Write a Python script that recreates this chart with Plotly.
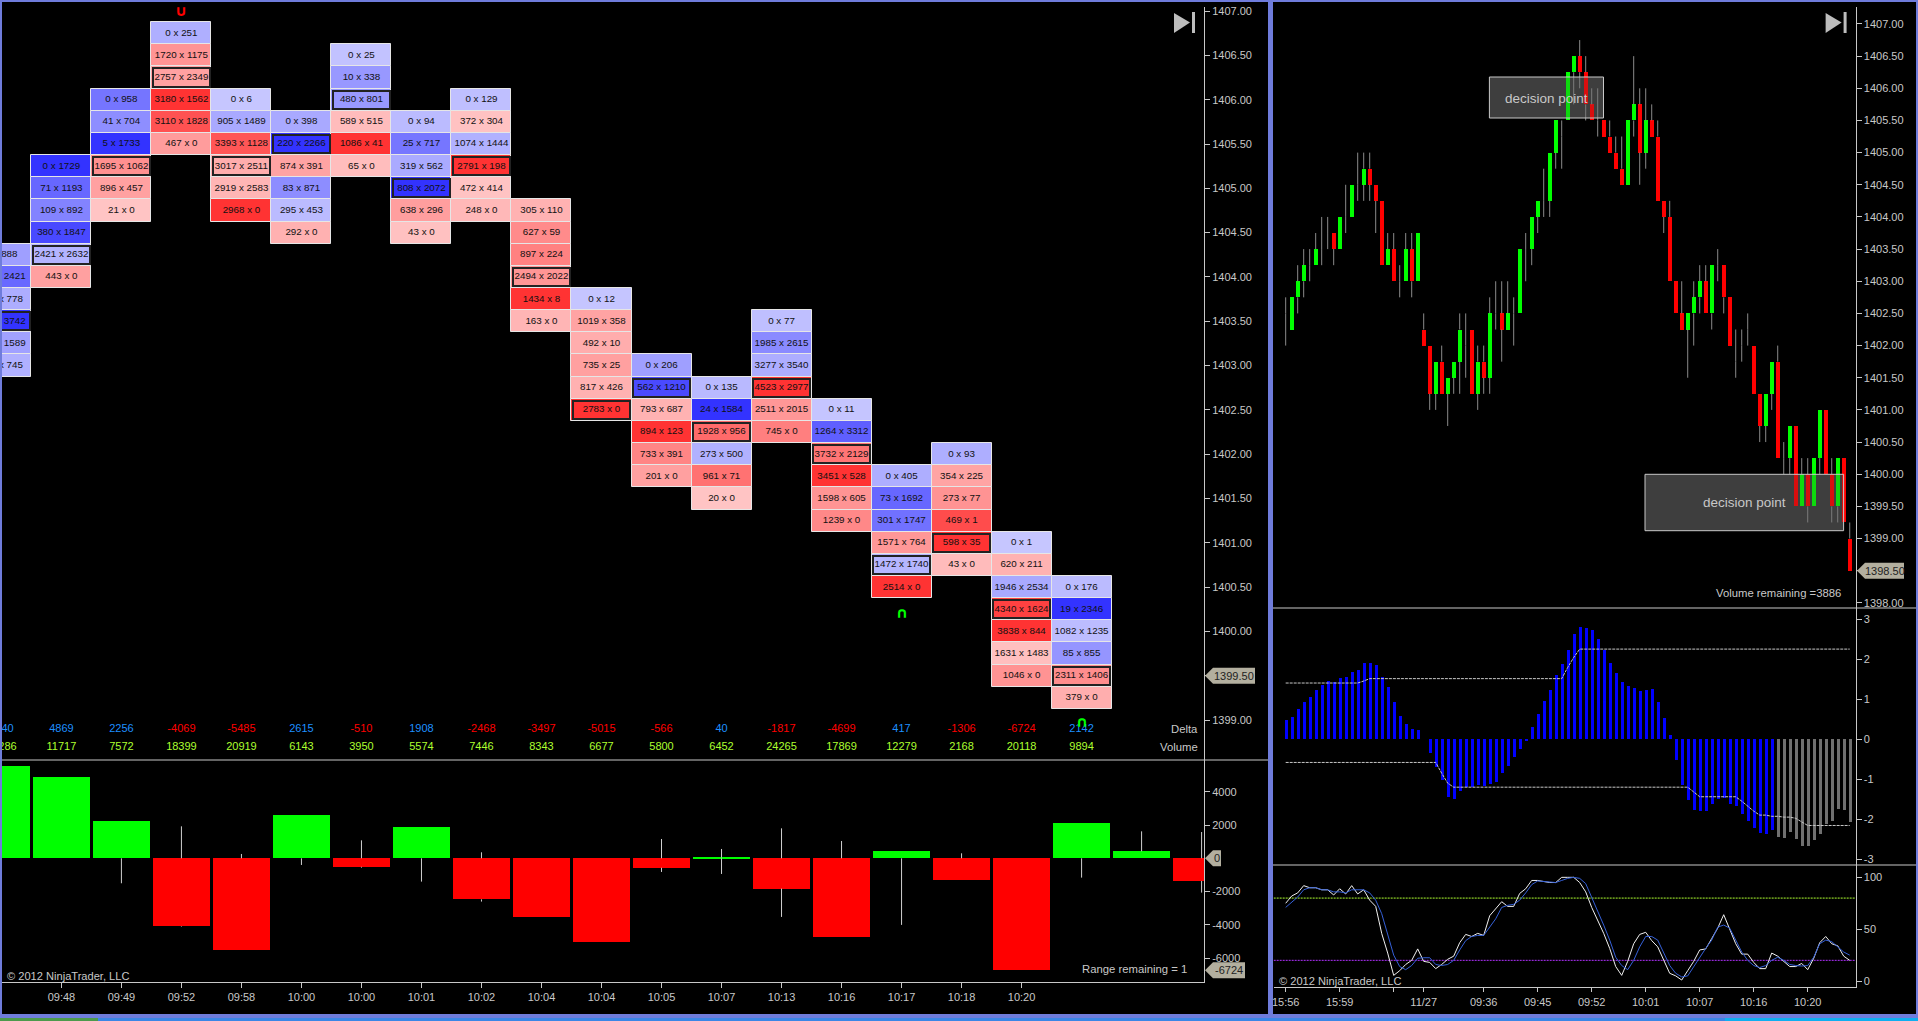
import plotly.graph_objects as go

W = 1918
H = 1021

# footprint columns: top price of each column, then bid and ask from the top row down
column_top = [1404.25, 1405.25, 1406.0, 1406.75, 1406.0, 1405.75, 1406.5, 1405.75, 1406.0, 1404.75, 1403.75,
              1403.0, 1402.75, 1403.5, 1402.5, 1401.75, 1402.0, 1401.0, 1400.5]
column_bid = [
    [0, 285, 200, 380, 750, 250],
    [0, 71, 109, 380, 2421, 443],
    [0, 41, 5, 1695, 896, 21],
    [0, 1720, 2757, 3180, 3110, 467],
    [0, 905, 3393, 3017, 2919, 2968],
    [0, 220, 874, 83, 295, 292],
    [0, 10, 480, 589, 1086, 65],
    [0, 25, 319, 808, 638, 43],
    [0, 372, 1074, 2791, 472, 248],
    [305, 627, 897, 2494, 1434, 163],
    [0, 1019, 492, 735, 817, 2783],
    [0, 562, 793, 894, 733, 201],
    [0, 24, 1928, 273, 961, 20],
    [0, 1985, 3277, 4523, 2511, 745],
    [0, 1264, 3732, 3451, 1598, 1239],
    [0, 73, 301, 1571, 1472, 2514],
    [0, 354, 273, 469, 598, 43],
    [0, 620, 1946, 4340, 3838, 1631, 1046],
    [0, 19, 1082, 85, 2311, 379],
]
column_ask = [
    [888, 2421, 778, 3742, 1589, 745],
    [1729, 1193, 892, 1847, 2632, 0],
    [958, 704, 1733, 1062, 457, 0],
    [251, 1175, 2349, 1562, 1828, 0],
    [6, 1489, 1128, 2511, 2583, 0],
    [398, 2266, 391, 871, 453, 0],
    [25, 338, 801, 515, 41, 0],
    [94, 717, 562, 2072, 296, 0],
    [129, 304, 1444, 198, 414, 0],
    [110, 59, 224, 2022, 8, 0],
    [12, 358, 10, 25, 426, 0],
    [206, 1210, 687, 123, 391, 0],
    [135, 1584, 956, 500, 71, 0],
    [77, 2615, 3540, 2977, 2015, 0],
    [11, 3312, 2129, 528, 605, 0],
    [405, 1692, 1747, 764, 1740, 0],
    [93, 225, 77, 1, 35, 0],
    [1, 211, 2534, 1624, 844, 1483, 0],
    [176, 2346, 1235, 855, 1406, 0],
]

# swing marks above and below the footprint
swing_column = [3, 15, 18]
swing_price = [1407.0, 1400.21, 1398.98]
swing_glyph = ['∪', '∩', '∩']

# delta histogram, two more columns than the footprint has because of the right edge
delta_values = [5540, 4869, 2256, -4069, -5485, 2615, -510, 1908, -2468, -3497, -5015, -566, 40, -1817, -4699,
                417, -1306, -6724, 2142, 420, -1360]
delta_high = [5540, 4869, 2256, 1920, 260, 2615, 1080, 1908, 360, 0, 0, 1160, 560, 1800, 1040, 417, 300, 0, 2142,
              1620, 1580]
delta_low = [0, 0, -1500, -4100, -5485, -400, -560, -1400, -2600, -3497, -5015, -820, -940, -3520, -4699, -4000,
             -1306, -6724, -1160, 0, -2060]
delta_labels = ['5540', '4869', '2256', '-4069', '-5485', '2615', '-510', '1908', '-2468', '-3497', '-5015', '-566',
                '40', '-1817', '-4699', '417', '-1306', '-6724', '2142']
volume_labels = ['16286', '11717', '7572', '18399', '20919', '6143', '3950', '5574', '7446', '8343', '6677', '5800',
                 '6452', '24265', '17869', '12279', '2168', '20118', '9894']
time_labels = ['09:48', '09:49', '09:52', '09:58', '10:00', '10:00', '10:01', '10:02', '10:04', '10:04', '10:05',
               '10:07', '10:13', '10:16', '10:17', '10:18', '10:20']

# candles on the right
candle_open = [1402.5, 1402.25, 1402.75, 1403.0, 1403.25, 1403.25, 1403.5, 1403.75, 1403.75, 1403.5, 1404.0, 1404.0,
               1404.5, 1404.5, 1404.75, 1404.5, 1404.25, 1403.25, 1403.5, 1403.0, 1403.0, 1403.5, 1403.0, 1402.25,
               1402.0, 1401.25, 1401.75, 1401.25, 1401.5, 1401.75, 1402.0, 1402.25, 1401.25, 1401.75, 1401.5, 1402.5,
               1402.5, 1402.25, 1402.5, 1402.5, 1403.5, 1403.5, 1404.0, 1404.25, 1404.25, 1405.0, 1405.25, 1405.5,
               1406.25, 1406.5, 1406.25, 1405.75, 1405.5, 1405.5, 1405.25, 1405.0, 1404.75, 1404.5, 1405.5, 1405.75,
               1405.0, 1405.5, 1405.25, 1404.25, 1404.0, 1403.0, 1402.5, 1402.25, 1402.5, 1402.75, 1403.0, 1402.5,
               1403.25, 1403.25, 1402.75, 1401.75, 1402.0, 1402.25, 1402.0, 1401.25, 1400.75, 1401.25, 1401.75,
               1400.25, 1400.25, 1400.75, 1399.5, 1400.0, 1399.5, 1400.25, 1401.0, 1400.0, 1399.5, 1400.25, 1399.0]
candle_high = [1402.75, 1402.75, 1403.25, 1403.5, 1403.5, 1403.75, 1404.0, 1404.0, 1403.75, 1404.0, 1404.5, 1404.5,
               1405.0, 1405.0, 1405.0, 1404.5, 1404.25, 1403.75, 1403.75, 1403.25, 1403.75, 1403.75, 1403.75, 1402.5,
               1402.0, 1401.75, 1402.0, 1401.5, 1401.75, 1402.5, 1402.5, 1402.25, 1402.0, 1402.0, 1402.75, 1403.0,
               1403.0, 1403.0, 1402.75, 1403.5, 1403.75, 1404.0, 1404.25, 1404.75, 1405.0, 1405.5, 1405.5, 1406.25,
               1406.5, 1406.75, 1406.5, 1406.0, 1406.0, 1405.5, 1405.5, 1405.25, 1405.25, 1405.5, 1406.5, 1406.0,
               1406.0, 1405.75, 1405.5, 1404.25, 1404.25, 1403.0, 1403.0, 1402.5, 1403.0, 1403.25, 1403.25, 1403.25,
               1403.5, 1403.25, 1402.75, 1402.25, 1402.25, 1402.5, 1402.0, 1401.25, 1401.25, 1401.75, 1402.0,
               1400.5, 1400.75, 1400.75, 1400.25, 1400.25, 1400.25, 1401.0, 1401.0, 1400.25, 1400.25, 1400.25, 1399.25]
candle_low = [1402.0, 1402.25, 1402.5, 1402.75, 1403.0, 1403.25, 1403.25, 1403.5, 1403.25, 1403.5, 1403.75, 1404.0,
              1404.25, 1404.25, 1404.25, 1403.75, 1403.25, 1403.25, 1403.0, 1402.75, 1403.0, 1402.75, 1403.0, 1402.0,
              1401.0, 1401.0, 1401.25, 1400.75, 1401.25, 1401.25, 1401.5, 1401.25, 1401.0, 1401.25, 1401.25, 1402.25,
              1401.75, 1402.25, 1402.0, 1402.5, 1403.0, 1403.25, 1403.75, 1404.0, 1404.0, 1404.75, 1404.75, 1405.5,
              1405.75, 1406.0, 1405.5, 1405.5, 1405.25, 1405.25, 1405.0, 1404.75, 1404.5, 1404.5, 1405.25, 1404.5,
              1404.75, 1405.25, 1404.25, 1403.75, 1403.0, 1402.5, 1402.25, 1401.5, 1402.0, 1402.5, 1402.5, 1402.25,
              1403.0, 1402.5, 1402.0, 1401.5, 1401.75, 1402.0, 1401.25, 1400.5, 1400.5, 1401.0, 1400.25, 1400.0,
              1400.0, 1399.5, 1399.5, 1399.25, 1399.5, 1400.0, 1400.0, 1399.25, 1399.25, 1399.25, 1398.5]
candle_close = [1402.5, 1402.75, 1403.0, 1403.25, 1403.25, 1403.5, 1403.5, 1403.75, 1403.5, 1404.0, 1404.0, 1404.5,
                1404.5, 1404.75, 1404.5, 1404.25, 1403.25, 1403.5, 1403.0, 1403.0, 1403.5, 1403.0, 1403.75, 1402.0,
                1401.25, 1401.75, 1401.25, 1401.5, 1401.75, 1402.25, 1402.0, 1401.25, 1401.75, 1401.5, 1402.5, 1402.5,
                1402.25, 1402.5, 1402.5, 1403.5, 1403.5, 1404.0, 1404.25, 1404.25, 1405.0, 1405.5, 1405.25, 1406.25,
                1406.5, 1406.25, 1405.75, 1405.5, 1405.5, 1405.25, 1405.0, 1404.75, 1404.5, 1405.5, 1405.75, 1405.0,
                1405.5, 1405.25, 1404.25, 1404.0, 1403.0, 1402.5, 1402.25, 1402.5, 1402.75, 1403.0, 1402.5, 1403.25,
                1403.25, 1402.75, 1402.0, 1401.75, 1402.0, 1402.25, 1401.25, 1400.75, 1401.25, 1401.75, 1400.25,
                1400.25, 1400.75, 1399.5, 1400.0, 1399.5, 1400.25, 1401.0, 1400.0, 1399.5, 1400.25, 1399.25, 1398.5]

# oscillator histogram and its swing lines
osc_values = [0.48, 0.56, 0.76, 0.94, 1.06, 1.24, 1.36, 1.46, 1.43, 1.54, 1.56, 1.69, 1.74, 1.91, 1.91, 1.87, 1.56,
              1.31, 0.94, 0.59, 0.38, 0.25, 0.23, 0, -0.34, -0.69, -1.02, -1.44, -1.5, -1.29, -1.2, -1.19, -1.15,
              -1.16, -1.12, -1.06, -0.85, -0.66, -0.44, -0.24, -0.04, 0.31, 0.64, 0.96, 1.24, 1.61, 1.89, 2.24, 2.64,
              2.81, 2.79, 2.74, 2.52, 2.24, 1.91, 1.66, 1.44, 1.34, 1.29, 1.21, 1.24, 1.26, 0.94, 0.54, 0.11, -0.52,
              -1.15, -1.52, -1.77, -1.8, -1.8, -1.62, -1.5, -1.47, -1.62, -1.67, -1.86, -2.05, -2.23, -2.35, -2.38,
              -2.28, -2.45, -2.48, -2.33, -2.5, -2.68, -2.68, -2.53, -2.38, -2.13, -2.05, -1.75, -1.77, -2.08]
osc_upper = [1.41, 1.41, 1.41, 1.41, 1.41, 1.41, 1.41, 1.41, 1.41, 1.41, 1.41, 1.41, 1.41, 1.46, 1.52, 1.52, 1.52,
             1.52, 1.52, 1.52, 1.52, 1.52, 1.52, 1.52, 1.52, 1.52, 1.52, 1.52, 1.52, 1.52, 1.52, 1.52, 1.52, 1.52,
             1.52, 1.52, 1.52, 1.52, 1.52, 1.52, 1.52, 1.52, 1.52, 1.52, 1.52, 1.52, 1.52, 1.8, 2.05, 2.26, 2.26,
             2.26, 2.26, 2.26, 2.26, 2.26, 2.26, 2.26, 2.26, 2.26, 2.26, 2.26, 2.26, 2.26, 2.26, 2.26, 2.26, 2.26,
             2.26, 2.26, 2.26, 2.26, 2.26, 2.26, 2.26, 2.26, 2.26, 2.26, 2.26, 2.26, 2.26, 2.26, 2.26, 2.26, 2.26,
             2.26, 2.26, 2.26, 2.26, 2.26, 2.26, 2.26, 2.26, 2.26, 2.26]
osc_lower = [-0.58, -0.58, -0.58, -0.58, -0.58, -0.58, -0.58, -0.58, -0.58, -0.58, -0.58, -0.58, -0.58, -0.58, -0.58,
             -0.58, -0.58, -0.58, -0.58, -0.58, -0.58, -0.58, -0.58, -0.58, -0.58, -0.58, -0.85, -1.1, -1.2, -1.2,
             -1.2, -1.2, -1.2, -1.2, -1.2, -1.2, -1.2, -1.2, -1.2, -1.2, -1.2, -1.2, -1.2, -1.2, -1.2, -1.2, -1.2,
             -1.2, -1.2, -1.2, -1.2, -1.2, -1.2, -1.2, -1.2, -1.2, -1.2, -1.2, -1.2, -1.2, -1.2, -1.2, -1.2, -1.2,
             -1.2, -1.2, -1.2, -1.2, -1.32, -1.44, -1.44, -1.44, -1.44, -1.44, -1.44, -1.44, -1.55, -1.68, -1.8,
             -1.9, -1.9, -1.93, -1.93, -1.95, -1.95, -1.98, -2.07, -2.16, -2.16, -2.16, -2.16, -2.16, -2.16, -2.16, -2.16]

# stochastics
stoch_k = [75, 82, 85, 92, 90, 90, 88, 88, 83, 89, 84, 92, 84, 88, 78, 72, 46, 27, 5.5, 10, 16, 20, 31, 19, 18, 12,
           16, 21, 24, 37, 45, 43, 46, 44, 63, 70, 76.5, 72, 72, 84.5, 89, 97, 97, 96, 95, 95, 100, 100, 100, 95, 86,
           71, 59, 46, 31.5, 14, 5.5, 19, 36, 45, 47, 39, 33, 20, 7.5, 5, 1, 10, 19, 30, 31, 41, 51, 64, 49, 36, 26,
           26, 18, 12, 12, 27, 24, 19, 14, 14, 17, 11, 22, 37, 43, 36, 34, 24, 20]
stoch_d = [71, 76, 81, 88, 90, 90, 88, 88, 86, 86, 85, 88, 88, 88, 85, 78, 65, 46, 25, 14, 11, 15, 22, 22.5, 22.5, 16,
           15, 16, 20, 30, 39, 43, 44, 44, 52, 60, 71, 73, 74, 78, 85, 93, 96.5, 96, 95, 95, 97, 99, 100, 99, 94, 81,
           68, 54, 39.5, 23, 15, 11, 20, 33, 43, 43, 39.5, 28, 15, 7.5, 4, 5, 14, 23, 31.5, 39.5, 52, 54, 51, 39.5,
           28, 20, 15, 13, 15, 20, 23, 20, 16, 15, 14.5, 15, 23, 36, 39.5, 38, 33, 28, 25]
stoch_lines = [80, 20]

price_ticks_left = [1399.0, 1399.5, 1400.0, 1400.5, 1401.0, 1401.5, 1402.0, 1402.5, 1403.0, 1403.5, 1404.0, 1404.5,
                    1405.0, 1405.5, 1406.0, 1406.5, 1407.0]
price_ticks_right = [1398.0, 1398.5, 1399.0, 1399.5, 1400.0, 1400.5, 1401.0, 1401.5, 1402.0, 1402.5, 1403.0, 1403.5,
                     1404.0, 1404.5, 1405.0, 1405.5, 1406.0, 1406.5, 1407.0]
delta_ticks = [4000, 2000, -2000, -4000, -6000]
osc_ticks = [3, 2, 1, 0, -1, -2, -3]
stoch_ticks = [100, 50, 0]
right_time_ticks = [0, 9, 18, 23, 33, 42, 51, 60, 69, 78, 87]
right_time_labels = ['15:56', '15:59', '', '11/27', '09:36', '09:45', '09:52', '10:01', '10:07', '10:16', '10:20']

FONT = 'Liberation Sans, Arial'
AXIS_GREY = '#c8c8c8'
TICK = 0.25


def fx(px):
    return px / W


def fy(py):
    return 1 - py / H


def cell_colour(bid, ask, biggest):
    # shade follows the bid/ask gap relative to the biggest gap in the column
    r = abs(ask - bid) / biggest
    soft = int(round(198 - 147 * r))
    if ask > bid:
        return f'rgb({soft},{soft},255)'
    return f'rgb(255,{soft},{soft})'


def whiskers(xs, top_body, bottom_body, highs, lows):
    # line pieces outside the body only, scatter lines always draw over bars
    wx, wy = [], []
    for i, x in enumerate(xs):
        wx += [x, x, None, x, x, None]
        wy += [highs[i], top_body[i], None, bottom_body[i], lows[i], None]
    return wx, wy


fig = go.Figure()

# footprint cells
cell_x, cell_base, cell_col, cell_mid, cell_text = [], [], [], [], []
poc_x, poc_mid = [], []
for c, top in enumerate(column_top):
    bids = column_bid[c]
    asks = column_ask[c]
    biggest = max(abs(a - b) for a, b in zip(asks, bids))
    totals = [a + b for a, b in zip(asks, bids)]
    for r in range(len(bids)):
        mid = top - r * TICK
        cell_x.append(c)
        cell_mid.append(mid)
        cell_base.append(mid - TICK / 2)
        cell_col.append(cell_colour(bids[r], asks[r], biggest))
        cell_text.append(f'{bids[r]} x {asks[r]}')
        if totals[r] == max(totals):
            poc_x.append(c)
            poc_mid.append(mid)

fig.add_trace(go.Bar(x=cell_x, y=[TICK] * len(cell_x), base=cell_base, width=1,
                     marker=dict(color=cell_col, line=dict(color='#e6e6e6', width=1)),
                     xaxis='x', yaxis='y', hoverinfo='skip'))
fig.add_trace(go.Bar(x=poc_x, y=[0.205] * len(poc_x), base=[m - 0.1025 for m in poc_mid], width=0.945,
                     marker=dict(color='rgba(0,0,0,0)', line=dict(color='#222222', width=2)),
                     xaxis='x', yaxis='y', hoverinfo='skip'))
fig.add_trace(go.Scatter(x=cell_x, y=cell_mid, text=cell_text, mode='text', textposition='middle center',
                         textfont=dict(family=FONT, size=9.8, color='#111111'),
                         xaxis='x', yaxis='y', hoverinfo='skip'))

# delta and volume rows under the footprint
cols = list(range(len(delta_labels)))
fig.add_trace(go.Scatter(x=cols, y=[1398.898] * len(cols), text=delta_labels, mode='text',
                         textfont=dict(family=FONT, size=11,
                                       color=['#1e90ff' if v > 0 else '#ff0000' for v in delta_values[:len(cols)]]),
                         xaxis='x', yaxis='y', hoverinfo='skip'))
fig.add_trace(go.Scatter(x=cols, y=[1398.694] * len(cols), text=volume_labels, mode='text',
                         textfont=dict(family=FONT, size=11, color='#adff2f'),
                         xaxis='x', yaxis='y', hoverinfo='skip'))

# delta histogram
delta_x = list(range(len(delta_values)))
wx, wy = whiskers(delta_x, [max(v, 0) for v in delta_values], [min(v, 0) for v in delta_values],
                  delta_high, delta_low)
fig.add_trace(go.Bar(x=delta_x, y=delta_values, width=0.945,
                     marker=dict(color=['#00ff00' if v > 0 else '#ff0000' for v in delta_values], line=dict(width=0)),
                     xaxis='x2', yaxis='y2', hoverinfo='skip'))
fig.add_trace(go.Scatter(x=wx, y=wy, mode='lines', line=dict(color='#d0d0d0', width=1),
                         xaxis='x2', yaxis='y2', hoverinfo='skip'))

# candles
candle_x = list(range(len(candle_open)))
wx, wy = whiskers(candle_x, [max(o, c) for o, c in zip(candle_open, candle_close)],
                  [min(o, c) for o, c in zip(candle_open, candle_close)], candle_high, candle_low)
fig.add_trace(go.Bar(x=candle_x, y=[c - o for o, c in zip(candle_open, candle_close)], base=candle_open, width=0.68,
                     marker=dict(color=['#00ff00' if c > o else '#ff0000' for o, c in zip(candle_open, candle_close)],
                                 line=dict(width=0)),
                     xaxis='x3', yaxis='y3', hoverinfo='skip'))
fig.add_trace(go.Scatter(x=wx, y=wy, mode='lines', line=dict(color='#8a8a8a', width=1),
                         xaxis='x3', yaxis='y3', hoverinfo='skip'))

# oscillator
fig.add_trace(go.Bar(x=candle_x, y=osc_values, width=0.56,
                     marker=dict(color=['#0000ff' if i < 82 else '#707070' for i in candle_x], line=dict(width=0)),
                     xaxis='x4', yaxis='y4', hoverinfo='skip'))
for band in [osc_upper, osc_lower]:
    fig.add_trace(go.Scatter(x=candle_x, y=band, mode='lines', line=dict(color='#c8c8c8', width=1, dash='3px,1px'),
                             xaxis='x4', yaxis='y4', hoverinfo='skip'))

# stochastics
fig.add_trace(go.Scatter(x=candle_x, y=stoch_k, mode='lines', line=dict(color='#f0f0f0', width=1),
                         xaxis='x5', yaxis='y5', hoverinfo='skip'))
fig.add_trace(go.Scatter(x=candle_x, y=stoch_d, mode='lines', line=dict(color='#3560d8', width=1),
                         xaxis='x5', yaxis='y5', hoverinfo='skip'))

# window furniture in pixels
shapes = []


def rect(x0, y0, x1, y1, fill, layer='below', line=None):
    shapes.append(dict(type='rect', xref='paper', yref='paper', x0=fx(x0), x1=fx(x1), y0=fy(y1), y1=fy(y0),
                       fillcolor=fill, line=line or dict(width=0), layer=layer))


def hline(x0, x1, y):
    shapes.append(dict(type='line', xref='paper', yref='paper', x0=fx(x0), x1=fx(x1), y0=fy(y), y1=fy(y),
                       line=dict(color=AXIS_GREY, width=1), layer='above'))


rect(2, 2, 1268, 1014, '#000000')
rect(1273, 2, 1916, 1014, '#000000')
rect(0, 1018, 98, 1021, '#4c9a4c')
rect(98, 1018, 1725, 1021, '#3a86e6')
rect(1725, 1018, 1918, 1021, '#10aef0')
hline(2, 1268, 760)
hline(1273, 1916, 608)
hline(1273, 1916, 865)

# decision point boxes
for x0, y0, x1, y1 in [(1489.4, 77, 1603.5, 118), (1645, 474.3, 1843.6, 530.7)]:
    rect(x0, y0, x1, y1, '#3c3c3c')
    rect(x0, y0, x1, y1, 'rgba(70,70,70,0.2)', layer='above', line=dict(color='#c8c8c8', width=1))

# skip-to-end icons
for ax in [1204, 1855.6]:
    a = ax - 30
    shapes.append(dict(type='path', xref='paper', yref='paper', fillcolor='#bdbdbd', line=dict(width=0), layer='above',
                       path=f'M {fx(a)} {fy(13)} L {fx(a + 16)} {fy(22.5)} L {fx(a)} {fy(33)} Z'))
    rect(a + 18, 12, a + 21, 33, '#bdbdbd', layer='above')

# price tags on the axes
annotations = []
TAG = '#b3af9f'


def tag(px_left, length, yval, yref, label):
    shapes.append(dict(type='path', xref='paper', yref=yref, xsizemode='pixel', ysizemode='pixel',
                       xanchor=fx(px_left), yanchor=yval, fillcolor=TAG, line=dict(width=0), layer='above',
                       path=f'M 0 0 L 8 8 L {length} 8 L {length} -8 L 8 -8 Z'))
    annotations.append(dict(xref='paper', yref=yref, x=fx(px_left + 8 + (length - 8) / 2), y=yval, text=label,
                            xanchor='center', showarrow=False, font=dict(family=FONT, size=11, color='#222222')))


tag(1205, 50, 1399.5, 'y', '1399.50')
tag(1205, 16, 0, 'y2', '0')
tag(1205, 40, -6724, 'y2', '-6724')
tag(1857, 47, 1398.5, 'y3', '1398.50')


def label(px, py, text, anchor='center', size=11.3, colour='#c8c8c8'):
    annotations.append(dict(xref='paper', yref='paper', x=fx(px), y=fy(py), text=text, showarrow=False,
                            xanchor=anchor, yanchor='middle', font=dict(family=FONT, size=size, color=colour)))


label(1200, 729, 'Delta', 'right')
label(1200, 747, 'Volume', 'right')
label(5, 976, '© 2012 NinjaTrader, LLC', 'left', size=11.1)
label(1277, 981, '© 2012 NinjaTrader, LLC', 'left', size=11.1)
label(1189, 969, 'Range remaining = 1', 'right')
label(1843, 593, 'Volume remaining =3886', 'right')
label(1546, 98, 'decision point', size=13.5)
label(1744, 502.7, 'decision point', size=13.5)

# swing marks as annotations, the top one sits above the axis domain
for c, p, g in zip(swing_column, swing_price, swing_glyph):
    annotations.append(dict(xref='x', yref='y', x=c, y=p, text=f'<b>{g}</b>', showarrow=False,
                            font=dict(family='DejaVu Sans', size=15, color='#ff0000' if g == '∪' else '#00ff00')))

for v, colour in zip(stoch_lines, ['#adff2f', '#b030ff']):
    shapes.append(dict(type='line', xref='x5', yref='y5', x0=-2, x1=95, y0=v, y1=v, layer='below',
                       line=dict(color=colour, width=1, dash='2px,1px')))

tickfont = dict(family=FONT, size=11, color=AXIS_GREY)
axis_style = dict(showgrid=False, zeroline=False, fixedrange=True)


def y_axis(y0, y1, lo, hi, x_anchor, ticks, text=None):
    return dict(domain=[fy(y1), fy(y0)], range=[lo, hi], anchor=x_anchor, side='right', showline=True,
                linecolor=AXIS_GREY, linewidth=1, ticks='outside', ticklen=5, tickwidth=1, tickcolor=AXIS_GREY,
                tickvals=ticks, ticktext=text or [str(t) for t in ticks], tickfont=tickfont, **axis_style)


def x_axis(x0, x1, lo, hi, y_anchor):
    return dict(domain=[fx(x0), fx(x1)], range=[lo, hi], anchor=y_anchor, showticklabels=False, ticks='',
                showline=False, **axis_style)


left = (2, 1204, 0.01, 20.04)
right = (1273.5, 1855.6, -2.03, 94.98)

xaxis2 = x_axis(*left, 'y2')
xaxis2.update(showline=True, linecolor=AXIS_GREY, ticks='outside', ticklen=5, tickcolor=AXIS_GREY,
              showticklabels=True, tickvals=list(range(1, len(time_labels) + 1)), ticktext=time_labels,
              tickfont=tickfont)
xaxis5 = x_axis(*right, 'y5')
xaxis5.update(showline=True, linecolor=AXIS_GREY, ticks='outside', ticklen=4, tickcolor=AXIS_GREY,
              showticklabels=True, tickvals=right_time_ticks, ticktext=right_time_labels, tickfont=tickfont)

fig.update_layout(
    width=W, height=H, margin=dict(l=0, r=0, t=0, b=0, autoexpand=False), autosize=False,
    paper_bgcolor='#6f7cdb', plot_bgcolor='rgba(0,0,0,0)',
    showlegend=False, barmode='overlay', bargap=0,
    shapes=shapes, annotations=annotations,
    xaxis=x_axis(*left, 'y'),
    yaxis=y_axis(7, 760, 1398.549, 1407.046, 'x', price_ticks_left, [f'{p:.2f}' for p in price_ticks_left]),
    xaxis2=xaxis2,
    yaxis2=y_axis(760, 982, -7430, 5905, 'x2', delta_ticks),
    xaxis3=x_axis(*right, 'y3'),
    yaxis3=y_axis(7, 608, 1397.92, 1407.264, 'x3', price_ticks_right, [f'{p:.2f}' for p in price_ticks_right]),
    xaxis4=x_axis(*right, 'y4'),
    yaxis4=y_axis(608, 865, -3.15, 3.29, 'x4', osc_ticks),
    xaxis5=xaxis5,
    yaxis5=y_axis(865, 987.3, -6, 111.9, 'x5', stoch_ticks),
)

fig.write_html("out.html", config=dict(displayModeBar=False),
               post_script="document.body.style.margin='0';document.body.style.overflow='hidden';")
